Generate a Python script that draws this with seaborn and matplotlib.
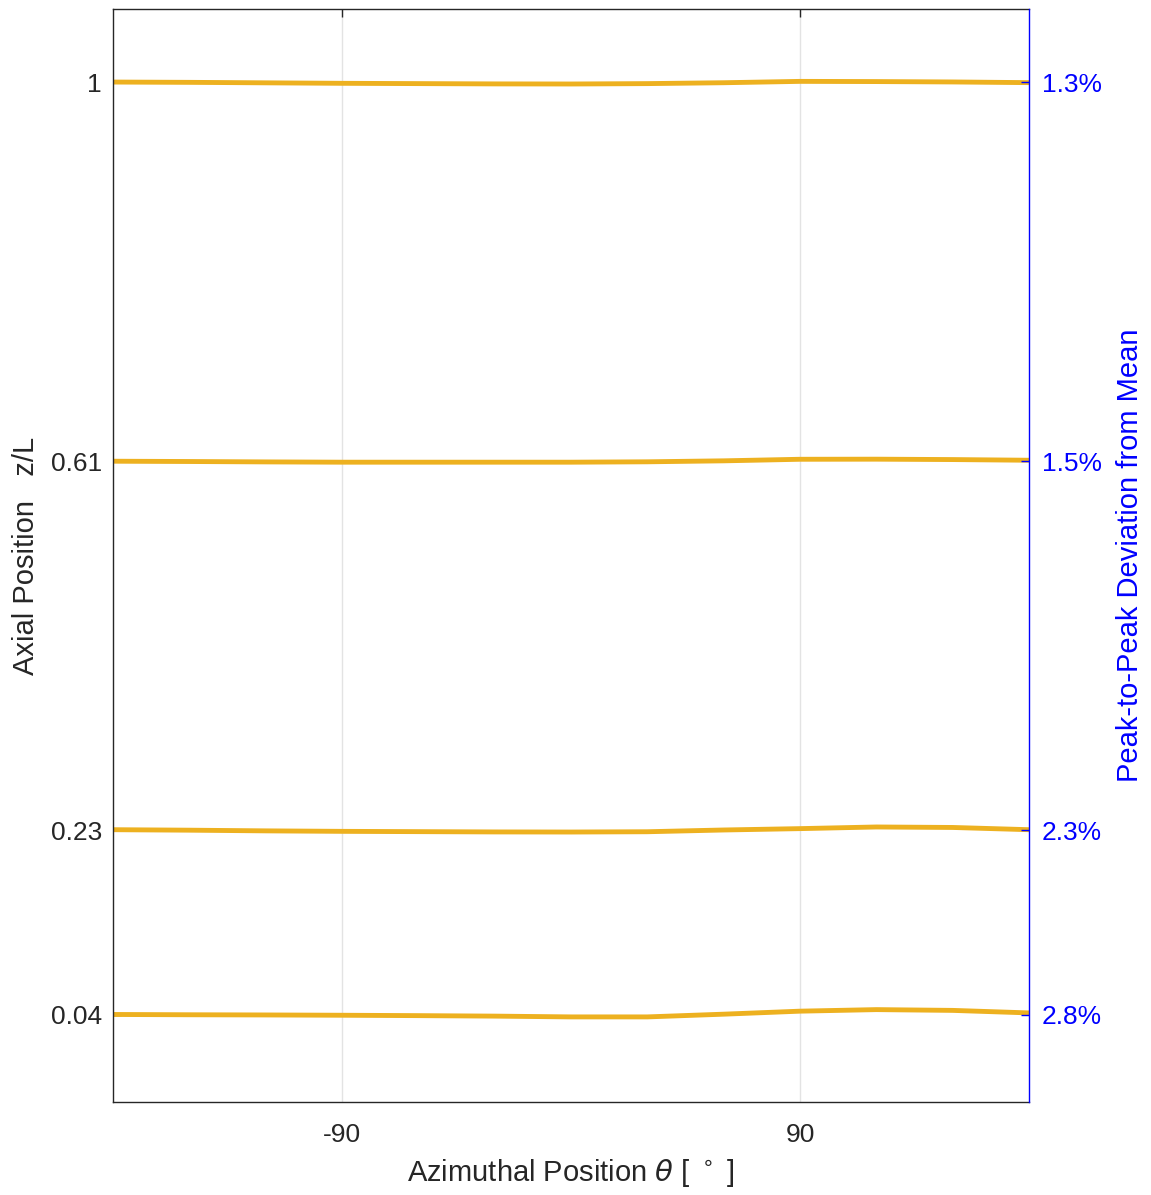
import numpy as np
import pandas as pd
import matplotlib
matplotlib.use("Agg")
import matplotlib.pyplot as plt
import seaborn as sns

sns.set_style("white")
plt.rcParams['font.family'] = ['Liberation Sans', 'DejaVu Sans']
plt.rcParams['mathtext.fontset'] = 'dejavusans'

# Data
theta = [-180, -150, -120, -90, -60, -30, 0, 30, 60, 90, 120, 150, 180]
z_levels = [1.0, 0.61, 0.23, 0.04]
z_labels = ["1", "0.61", "0.23", "0.04"]
ptp_labels = ["1.3%", "1.5%", "2.3%", "2.8%"]
dev_z100 = [0.0003, 0.0000, -0.0005, -0.0010, -0.0013, -0.0016, -0.0017, -0.0013, -0.0004, 0.0010, 0.0008, 0.0004, -0.0003]
dev_z061 = [0.0000, -0.0003, -0.0007, -0.0010, -0.0010, -0.0010, -0.0010, -0.0006, 0.0004, 0.0020, 0.0021, 0.0017, 0.0010]
dev_z023 = [0.0007, 0.0002, -0.0005, -0.0010, -0.0013, -0.0016, -0.0017, -0.0014, 0.0004, 0.0018, 0.0035, 0.0030, 0.0007]
dev_z004 = [0.0005, 0.0002, 0.0000, -0.0003, -0.0007, -0.0012, -0.0020, -0.0020, 0.0008, 0.0039, 0.0055, 0.0047, 0.0021]
devs = [dev_z100, dev_z061, dev_z023, dev_z004]

rows = []
for z, d in zip(z_levels, devs):
    for t, v in zip(theta, d):
        rows.append({"theta": t, "zpos": z + v, "level": str(z)})
df = pd.DataFrame(rows)

fig = plt.figure(figsize=(11.51, 11.95), dpi=100)
ax = fig.add_axes([113/1151, 1 - 1102/1195, (1029-113)/1151, (1102-9)/1195])

line_color = "#EDB120"
sns.lineplot(data=df, x="theta", y="zpos", units="level", estimator=None,
             color=line_color, linewidth=3.5, ax=ax, legend=False)

ax.set_xlim(-180, 180)
ylo, yhi = -0.0496, 1.0755
ax.set_ylim(ylo, yhi)
ax.set_xticks([-90, 90])
ax.set_xticklabels(["-90", "90"])
ax.set_yticks(z_levels)
ax.set_yticklabels(z_labels)
ax.grid(True, axis="x", color="#e3e3e3", linewidth=1.0)
ax.grid(False, axis="y")
ax.set_axisbelow(True)

ax.tick_params(axis="both", direction="in", length=6, width=1.0, labelsize=19,
               colors="#262626", top=True, right=False, pad=8)
ax.tick_params(axis="x", pad=15)
for side in ["left", "top", "bottom"]:
    ax.spines[side].set_color("#262626")
    ax.spines[side].set_linewidth(1.0)
ax.spines["right"].set_visible(False)

ax.set_xlabel(r"Azimuthal Position $\theta$ [ $^\circ$ ]", fontsize=21, color="#262626", labelpad=7)
ax.set_ylabel("Axial Position   z/L", fontsize=21, color="#262626", labelpad=8)

ax2 = ax.twinx()
ax2.set_ylim(ylo, yhi)
ax2.set_yticks(z_levels)
ax2.set_yticklabels(ptp_labels)
blue = "#0000FF"
ax2.tick_params(axis="y", direction="in", length=6, width=1.0, labelsize=19,
                colors=blue, pad=9)
ax2.spines["right"].set_color(blue)
ax2.spines["right"].set_linewidth(1.0)
for side in ["left", "top", "bottom"]:
    ax2.spines[side].set_visible(False)
ax2.set_ylabel("Peak-to-Peak Deviation from Mean", fontsize=21, color=blue, labelpad=10)
ax2.grid(False)

fig.savefig("out.png", dpi=100)
